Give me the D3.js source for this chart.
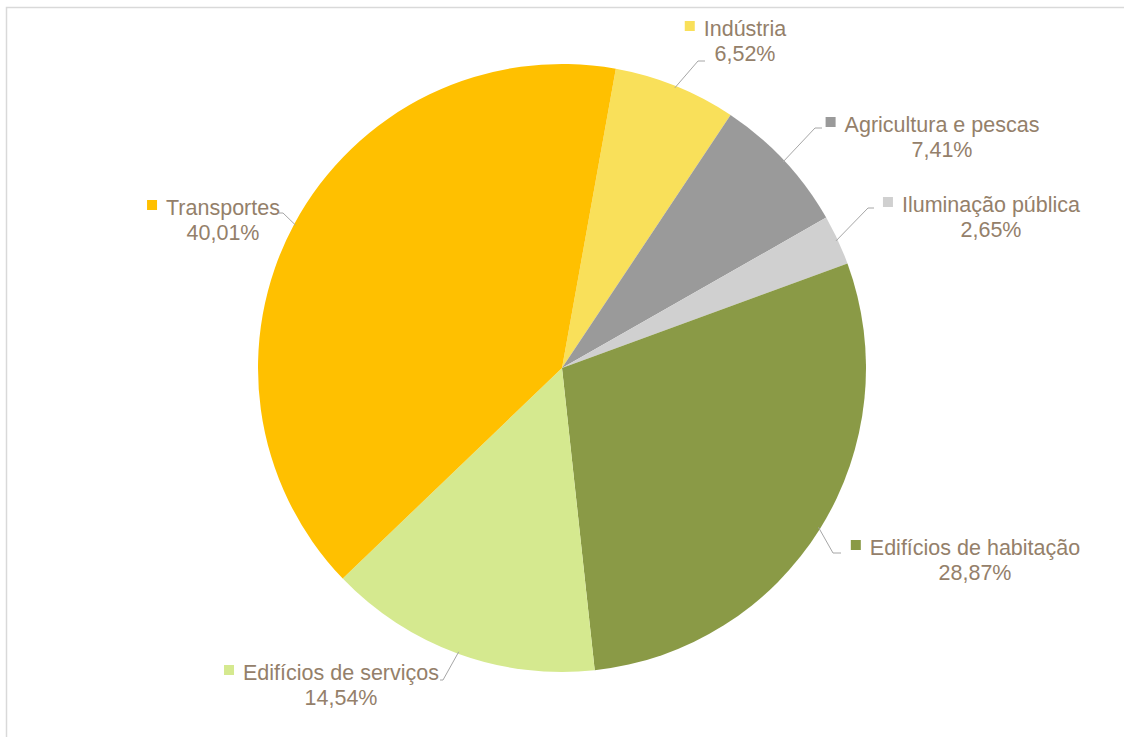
<!DOCTYPE html>
<html>
<head>
<meta charset="utf-8">
<script src="https://cdn.jsdelivr.net/npm/d3@7"></script>
<style>
  html, body { margin: 0; padding: 0; background: #ffffff; }
  svg { display: block; }
</style>
</head>
<body>
<svg id="chart" width="1124" height="737"></svg>
<script>
// Energy consumption by sector (share of total)
const sectors = ["Indústria", "Agricultura e pescas", "Iluminação pública",
                 "Edifícios de habitação", "Edifícios de serviços", "Transportes"];
const shares = [6.52, 7.41, 2.65, 28.87, 14.54, 40.01];
const shareLabels = ["6,52%", "7,41%", "2,65%", "28,87%", "14,54%", "40,01%"];
const sliceColors = ["#F9E05A", "#9A9A9A", "#D0D0D0", "#8A9A46", "#D5E98F", "#FFC000"];

// Label placement: centre of the category text, its baseline, and the leader elbow
const labelLayout = [
  { cx: 745, y: 36,  elbow: [698, 61],  end: [705, 61] },
  { cx: 942, y: 132, elbow: [815, 128], end: [822, 128] },
  { cx: 991, y: 212, elbow: [868, 208], end: [874, 208] },
  { cx: 975, y: 555, elbow: [833, 553], end: [841, 553] },
  { cx: 341, y: 680, elbow: [443, 680], end: [440, 680] },
  { cx: 223, y: 215, elbow: [283, 213], end: [279, 213] }
];

const svg = d3.select("#chart");
const W = 1124, H = 737;

// chart area frame
svg.append("rect")
  .attr("x", 6.5).attr("y", 7.5)
  .attr("width", W).attr("height", H)
  .attr("fill", "#ffffff")
  .attr("stroke", "#D9D9D9").attr("stroke-width", 1.5);

const cx = 562, cy = 368, r = 304;
const startAngle = 10.2 * Math.PI / 180;

const data = sectors.map((s, i) => ({ name: s, value: shares[i], label: shareLabels[i], color: sliceColors[i], layout: labelLayout[i] }));

const pie = d3.pie().sort(null).value(d => d.value)
  .startAngle(startAngle).endAngle(startAngle + 2 * Math.PI);
const arcs = pie(data);
const arc = d3.arc().innerRadius(0).outerRadius(r);

const g = svg.append("g").attr("transform", `translate(${cx},${cy})`);

g.selectAll("path.slice")
  .data(arcs)
  .join("path")
  .attr("class", "slice")
  .attr("d", arc)
  .attr("fill", d => d.data.color);

// Leader lines from slice edge to label
const edgeArc = d3.arc().innerRadius(r - 2).outerRadius(r - 2);
svg.append("g").selectAll("polyline")
  .data(arcs)
  .join("polyline")
  .attr("points", d => {
    const [x0, y0] = edgeArc.centroid(d);
    const L = d.data.layout;
    return [[x0 + cx, y0 + cy], L.elbow, L.end].map(p => p.join(",")).join(" ");
  })
  .attr("fill", "none")
  .attr("stroke", "#A6A6A6")
  .attr("stroke-width", 1);

// Labels: legend key, category name, percentage
const fontSize = 21.5;
const textColor = "#94806A";
const labels = svg.append("g")
  .attr("font-family", "'Liberation Sans', Arial, sans-serif")
  .attr("font-size", fontSize)
  .attr("fill", textColor);

arcs.forEach(d => {
  const L = d.data.layout;
  const name = labels.append("text")
    .attr("x", L.cx).attr("y", L.y)
    .attr("text-anchor", "middle")
    .text(d.data.name);
  const bb = name.node().getBBox();
  labels.append("rect")
    .attr("x", bb.x - 19).attr("y", L.y - 15)
    .attr("width", 10).attr("height", 10)
    .attr("fill", d.data.color);
  labels.append("text")
    .attr("x", L.cx).attr("y", L.y + 24.5)
    .attr("text-anchor", "middle")
    .text(d.data.label);
});
</script>
</body>
</html>
